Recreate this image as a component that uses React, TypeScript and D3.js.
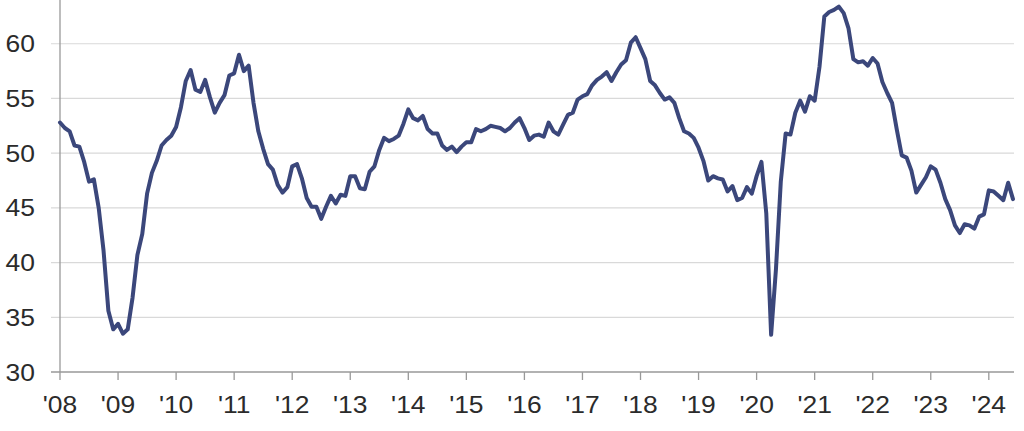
import React, { useEffect, useRef } from "react";
import * as d3 from "d3";

// ─── Data (monthly, Jan 2008 – Jun 2024) ──────────────────────────────────────
const START_YEAR = 2008;
const values2008_2011 = [
  52.8, 52.3, 52.0, 50.7, 50.6, 49.2, 47.4, 47.6, 45.0, 41.1, 35.6, 33.9,
  34.4, 33.5, 33.9, 36.8, 40.7, 42.6, 46.3, 48.2, 49.3, 50.7, 51.2, 51.6,
  52.4, 54.2, 56.6, 57.6, 55.8, 55.6, 56.7, 55.1, 53.7, 54.6, 55.3, 57.1,
  57.3, 59.0, 57.5, 58.0, 54.6, 52.0, 50.4, 49.0, 48.5, 47.1, 46.4, 46.9,
];
const values2012_2015 = [
  48.8, 49.0, 47.7, 45.9, 45.1, 45.1, 44.0, 45.1, 46.1, 45.4, 46.2, 46.1,
  47.9, 47.9, 46.8, 46.7, 48.3, 48.8, 50.3, 51.4, 51.1, 51.3, 51.6, 52.7,
  54.0, 53.2, 53.0, 53.4, 52.2, 51.8, 51.8, 50.7, 50.3, 50.6, 50.1, 50.6,
  51.0, 51.0, 52.2, 52.0, 52.2, 52.5, 52.4, 52.3, 52.0, 52.3, 52.8, 53.2,
];
const values2016_2019 = [
  52.3, 51.2, 51.6, 51.7, 51.5, 52.8, 52.0, 51.7, 52.6, 53.5, 53.7, 54.9,
  55.2, 55.4, 56.2, 56.7, 57.0, 57.4, 56.6, 57.4, 58.1, 58.5, 60.1, 60.6,
  59.6, 58.6, 56.6, 56.2, 55.5, 54.9, 55.1, 54.6, 53.2, 52.0, 51.8, 51.4,
  50.5, 49.3, 47.5, 47.9, 47.7, 47.6, 46.5, 47.0, 45.7, 45.9, 46.9, 46.3,
];
const values2020_2024 = [
  47.9, 49.2, 44.5, 33.4, 39.4, 47.4, 51.8, 51.7, 53.7, 54.8, 53.8, 55.2,
  54.8, 57.9, 62.5, 62.9, 63.1, 63.4, 62.8, 61.4, 58.6, 58.3, 58.4, 58.0,
  58.7, 58.2, 56.5, 55.5, 54.6, 52.1, 49.8, 49.6, 48.4, 46.4, 47.1, 47.8,
  48.8, 48.5, 47.3, 45.8, 44.8, 43.4, 42.7, 43.5, 43.4, 43.1, 44.2, 44.4,
  46.6, 46.5, 46.1, 45.7, 47.3, 45.8,
];
const values = [...values2008_2011, ...values2012_2015, ...values2016_2019, ...values2020_2024];

const yearTicks = d3.range(2008, 2025);
const yTicks = [30, 35, 40, 45, 50, 55, 60];

// ─── Design tokens ────────────────────────────────────────────────────────────
const WIDTH = 1024;
const HEIGHT = 431;
const X0 = 60;
const X1 = 1013;
const Y_BOTTOM = 372;
const LINE_STROKE = "#3b477b";
const GRID_STROKE = "#d9d9d9";
const AXIS_STROKE = "#999999";
const TEXT_FILL = "#2b2b2b";
const FONT = "'Liberation Sans', Arial, sans-serif";

export default function App() {
  const svgRef = useRef<SVGSVGElement>(null);

  useEffect(() => {
    const node = svgRef.current;
    if (!node) return;
    const svg = d3.select(node);
    svg.selectAll("*").remove();

    const lastT = START_YEAR + (values.length - 1) / 12;
    const x = d3.scaleLinear().domain([START_YEAR, lastT]).range([X0, X1]);
    const y = d3.scaleLinear().domain([30, 64]).range([Y_BOTTOM, 0]);

    // ── Grid lines ──────────────────────────────────────────────────────
    svg
      .append("g")
      .selectAll("line")
      .data(yTicks.filter((t) => t > 30))
      .join("line")
      .attr("x1", X0 - 9)
      .attr("x2", X1 + 1)
      .attr("y1", (d) => y(d))
      .attr("y2", (d) => y(d))
      .attr("stroke", GRID_STROKE)
      .attr("stroke-width", 1.2);

    // ── Axes ────────────────────────────────────────────────────────────
    svg
      .append("line")
      .attr("x1", X0)
      .attr("x2", X0)
      .attr("y1", 0)
      .attr("y2", Y_BOTTOM)
      .attr("stroke", AXIS_STROKE)
      .attr("stroke-width", 1.3);

    svg
      .append("line")
      .attr("x1", X0 - 9)
      .attr("x2", X1 + 1)
      .attr("y1", Y_BOTTOM)
      .attr("y2", Y_BOTTOM)
      .attr("stroke", AXIS_STROKE)
      .attr("stroke-width", 1.3);

    svg
      .append("g")
      .selectAll("line")
      .data(yearTicks)
      .join("line")
      .attr("x1", (d) => x(d))
      .attr("x2", (d) => x(d))
      .attr("y1", Y_BOTTOM)
      .attr("y2", Y_BOTTOM + 8)
      .attr("stroke", AXIS_STROKE)
      .attr("stroke-width", 1.3);

    // ── Tick labels ─────────────────────────────────────────────────────
    svg
      .append("g")
      .selectAll("text")
      .data(yTicks)
      .join("text")
      .attr("transform", (d) => `translate(35,${y(d) + 8.5}) scale(1.15,1)`)
      .attr("text-anchor", "end")
      .attr("font-family", FONT)
      .attr("font-size", 23)
      .attr("fill", TEXT_FILL)
      .text((d) => String(d));

    svg
      .append("g")
      .selectAll("text")
      .data(yearTicks)
      .join("text")
      .attr("transform", (d) => `translate(${x(d)},413) scale(1.15,1)`)
      .attr("text-anchor", "middle")
      .attr("font-family", FONT)
      .attr("font-size", 23)
      .attr("fill", TEXT_FILL)
      .text((d) => `'${String(d).slice(2)}`);

    // ── Series ──────────────────────────────────────────────────────────
    const line = d3
      .line<number>()
      .x((_, i) => x(START_YEAR + i / 12))
      .y((d) => y(d));

    svg
      .append("path")
      .datum(values)
      .attr("d", line)
      .attr("fill", "none")
      .attr("stroke", LINE_STROKE)
      .attr("stroke-width", 4)
      .attr("stroke-linejoin", "round")
      .attr("stroke-linecap", "round");
  }, []);

  return (
    <svg
      ref={svgRef}
      width={WIDTH}
      height={HEIGHT}
      style={{ position: "absolute", left: 0, top: 0, background: "#ffffff" }}
    />
  );
}
